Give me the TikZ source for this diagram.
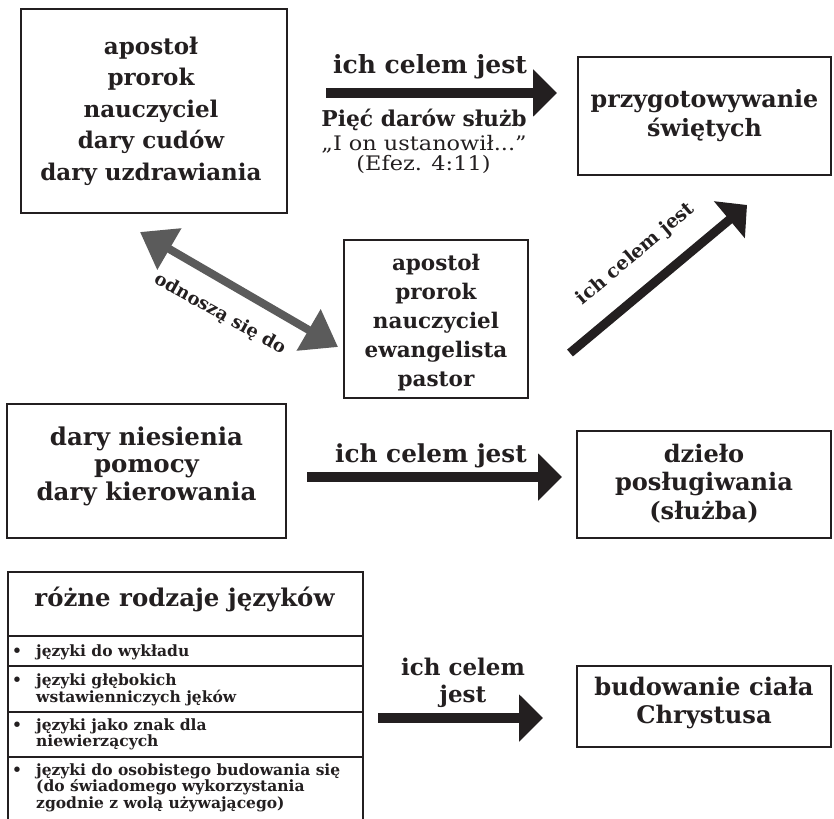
\documentclass[tikz,border=0pt]{standalone}
\usepackage{fontspec}
\usepackage{graphicx}
\setmainfont{DejaVu Serif}
\usetikzlibrary{arrows.meta}
\definecolor{ink}{HTML}{231F20}
\definecolor{arrgray}{HTML}{5B5B5B}
\tikzset{
  gbox/.style={draw=ink, line width=1.7pt, rectangle, inner sep=0pt},
  btext/.style={text=ink, inner sep=0pt, align=center},
  bf/.style 2 args={font=\bfseries\fontsize{#1}{#2}\selectfont},
  lbl/.style={text=ink, inner sep=0pt, align=center},
  rowtext/.style={text=ink, inner sep=0pt, anchor=base west, font=\bfseries\fontsize{15.5}{15.5}\selectfont},
  bigarrow/.style={draw=ink, line width=10pt, -{Triangle[length=24pt,width=46pt]}},
  diagarrow/.style={draw=ink, line width=9pt, -{Triangle[length=23pt,width=47pt]}},
  grayarrow/.style={draw=arrgray, line width=8pt, {Triangle[length=34pt,width=46pt]}-{Triangle[length=34pt,width=46pt]}},
}
\newcommand\bulletrow[1]{\begin{tabular}[t]{@{}p{24pt}@{}p{325pt}@{}}#1\end{tabular}}
\begin{document}
\begin{tikzpicture}[x=1pt,y=-1pt]
\useasboundingbox (0,0) rectangle (834,818);
\clip (0,0) rectangle (834,818);

% box 1
\node[gbox, minimum width=266pt, minimum height=204pt] (b1) at (154,111) {};
\node[btext, bf={23}{31.5}] (b1t) at (151,111)
  {apostoł\\prorok\\nauczyciel\\dary cudów\\dary uzdrawiania};
% box 2
\node[gbox, minimum width=253pt, minimum height=118pt] (b2) at (704.5,116) {};
\node[btext, bf={23.8}{29}] (b2t) at (704.5,116) {przygotowywanie\\świętych};
% box 3
\node[gbox, minimum width=184pt, minimum height=158pt] (b3) at (436,319) {};
\node[btext, bf={21.5}{29.2}] (b3t) at (436,322.5)
  {apostoł\\prorok\\nauczyciel\\ewangelista\\pastor};
% box 4
\node[gbox, minimum width=279pt, minimum height=134pt] (b4) at (146.5,471) {};
\node[btext, bf={24.5}{27.5}] (b4t) at (146.5,466) {dary niesienia\\pomocy\\dary kierowania};
% box 5
\node[gbox, minimum width=254pt, minimum height=107pt] (b5) at (704,484.5) {};
\node[btext, bf={24.1}{28.3}] (b5t) at (704,483.5) {dzieło\\posługiwania\\(służba)};
% box 7
\node[gbox, minimum width=254pt, minimum height=81pt] (b7) at (704,706.5) {};
\node[btext, bf={24.2}{28.3}] (b7t) at (704,702.7) {budowanie ciała\\Chrystusa};

% tongues table
\node[gbox, minimum width=355pt, minimum height=64pt] (h6) at (185.5,604) {};
\node[btext, bf={24.4}{28}, anchor=base] (h6t) at (184.5,606.7) {różne rodzaje języków};
\node[gbox, minimum width=355pt, minimum height=30pt] (r1) at (185.5,651) {};
\node[gbox, minimum width=355pt, minimum height=46pt] (r2) at (185.5,689) {};
\node[gbox, minimum width=355pt, minimum height=45pt] (r3) at (185.5,734.5) {};
\node[gbox, minimum width=355pt, minimum height=73pt] (r4) at (185.5,793.5) {};
\node[rowtext] (r1t) at (12,656.7) {\bulletrow{•&języki do wykładu}};
\node[rowtext] (r2t) at (12,685) {\bulletrow{•&języki głębokich\\&wstawienniczych jęków}};
\node[rowtext] (r3t) at (12,730) {\bulletrow{•&języki jako znak dla\\&niewierzących}};
\node[rowtext] (r4t) at (12,775) {\bulletrow{•&języki do osobistego budowania się\\&(do świadomego wykorzystania\\&zgodnie z wolą używającego)}};

% arrow 1
\coordinate (a1s) at (326,93);
\coordinate (a1e) at (557,93);
\draw[bigarrow] (a1s) -- (a1e);
\node[lbl, bf={25}{29}, anchor=base] (l1) at (430,73.3) {ich celem jest};
\node[lbl, bf={21.8}{24}, anchor=base] (l1b) at (424,126.7) {Pięć darów służb};
\node[lbl, font=\fontsize{20}{22}\selectfont, anchor=base] (l1c) at (424,151)
  {\scalebox{1.12}[1]{„I on ustanowił...”}};
\node[lbl, font=\fontsize{20}{22}\selectfont, anchor=base] (l1d) at (423.5,170.5)
  {\scalebox{1.12}[1]{(Efez. 4:11)}};

% gray double arrow
\coordinate (g1) at (140,232);
\coordinate (g2) at (338,347);
\draw[grayarrow] (g1) -- (g2);
\node[lbl, bf={18}{20}, rotate=-29] (lg) at (220,314) {odnoszą się do};

% diagonal arrow
\coordinate (d1) at (570,353);
\coordinate (d2) at (747,205);
\draw[diagarrow] (d1) -- (d2);
\node[lbl, bf={19}{20}, rotate=40] (ld) at (636,254) {ich celem jest};

% arrow 3
\coordinate (a3s) at (307,477);
\coordinate (a3e) at (562,477);
\draw[bigarrow] (a3s) -- (a3e);
\node[lbl, bf={24.7}{29}, anchor=base] (l3) at (431,462) {ich celem jest};

% arrow 4
\coordinate (a4s) at (378,718);
\coordinate (a4e) at (543,718);
\draw[bigarrow] (a4s) -- (a4e);
\node[lbl, bf={23}{27}] (l4) at (463,682.5) {ich celem\\jest};
\end{tikzpicture}
\end{document}
